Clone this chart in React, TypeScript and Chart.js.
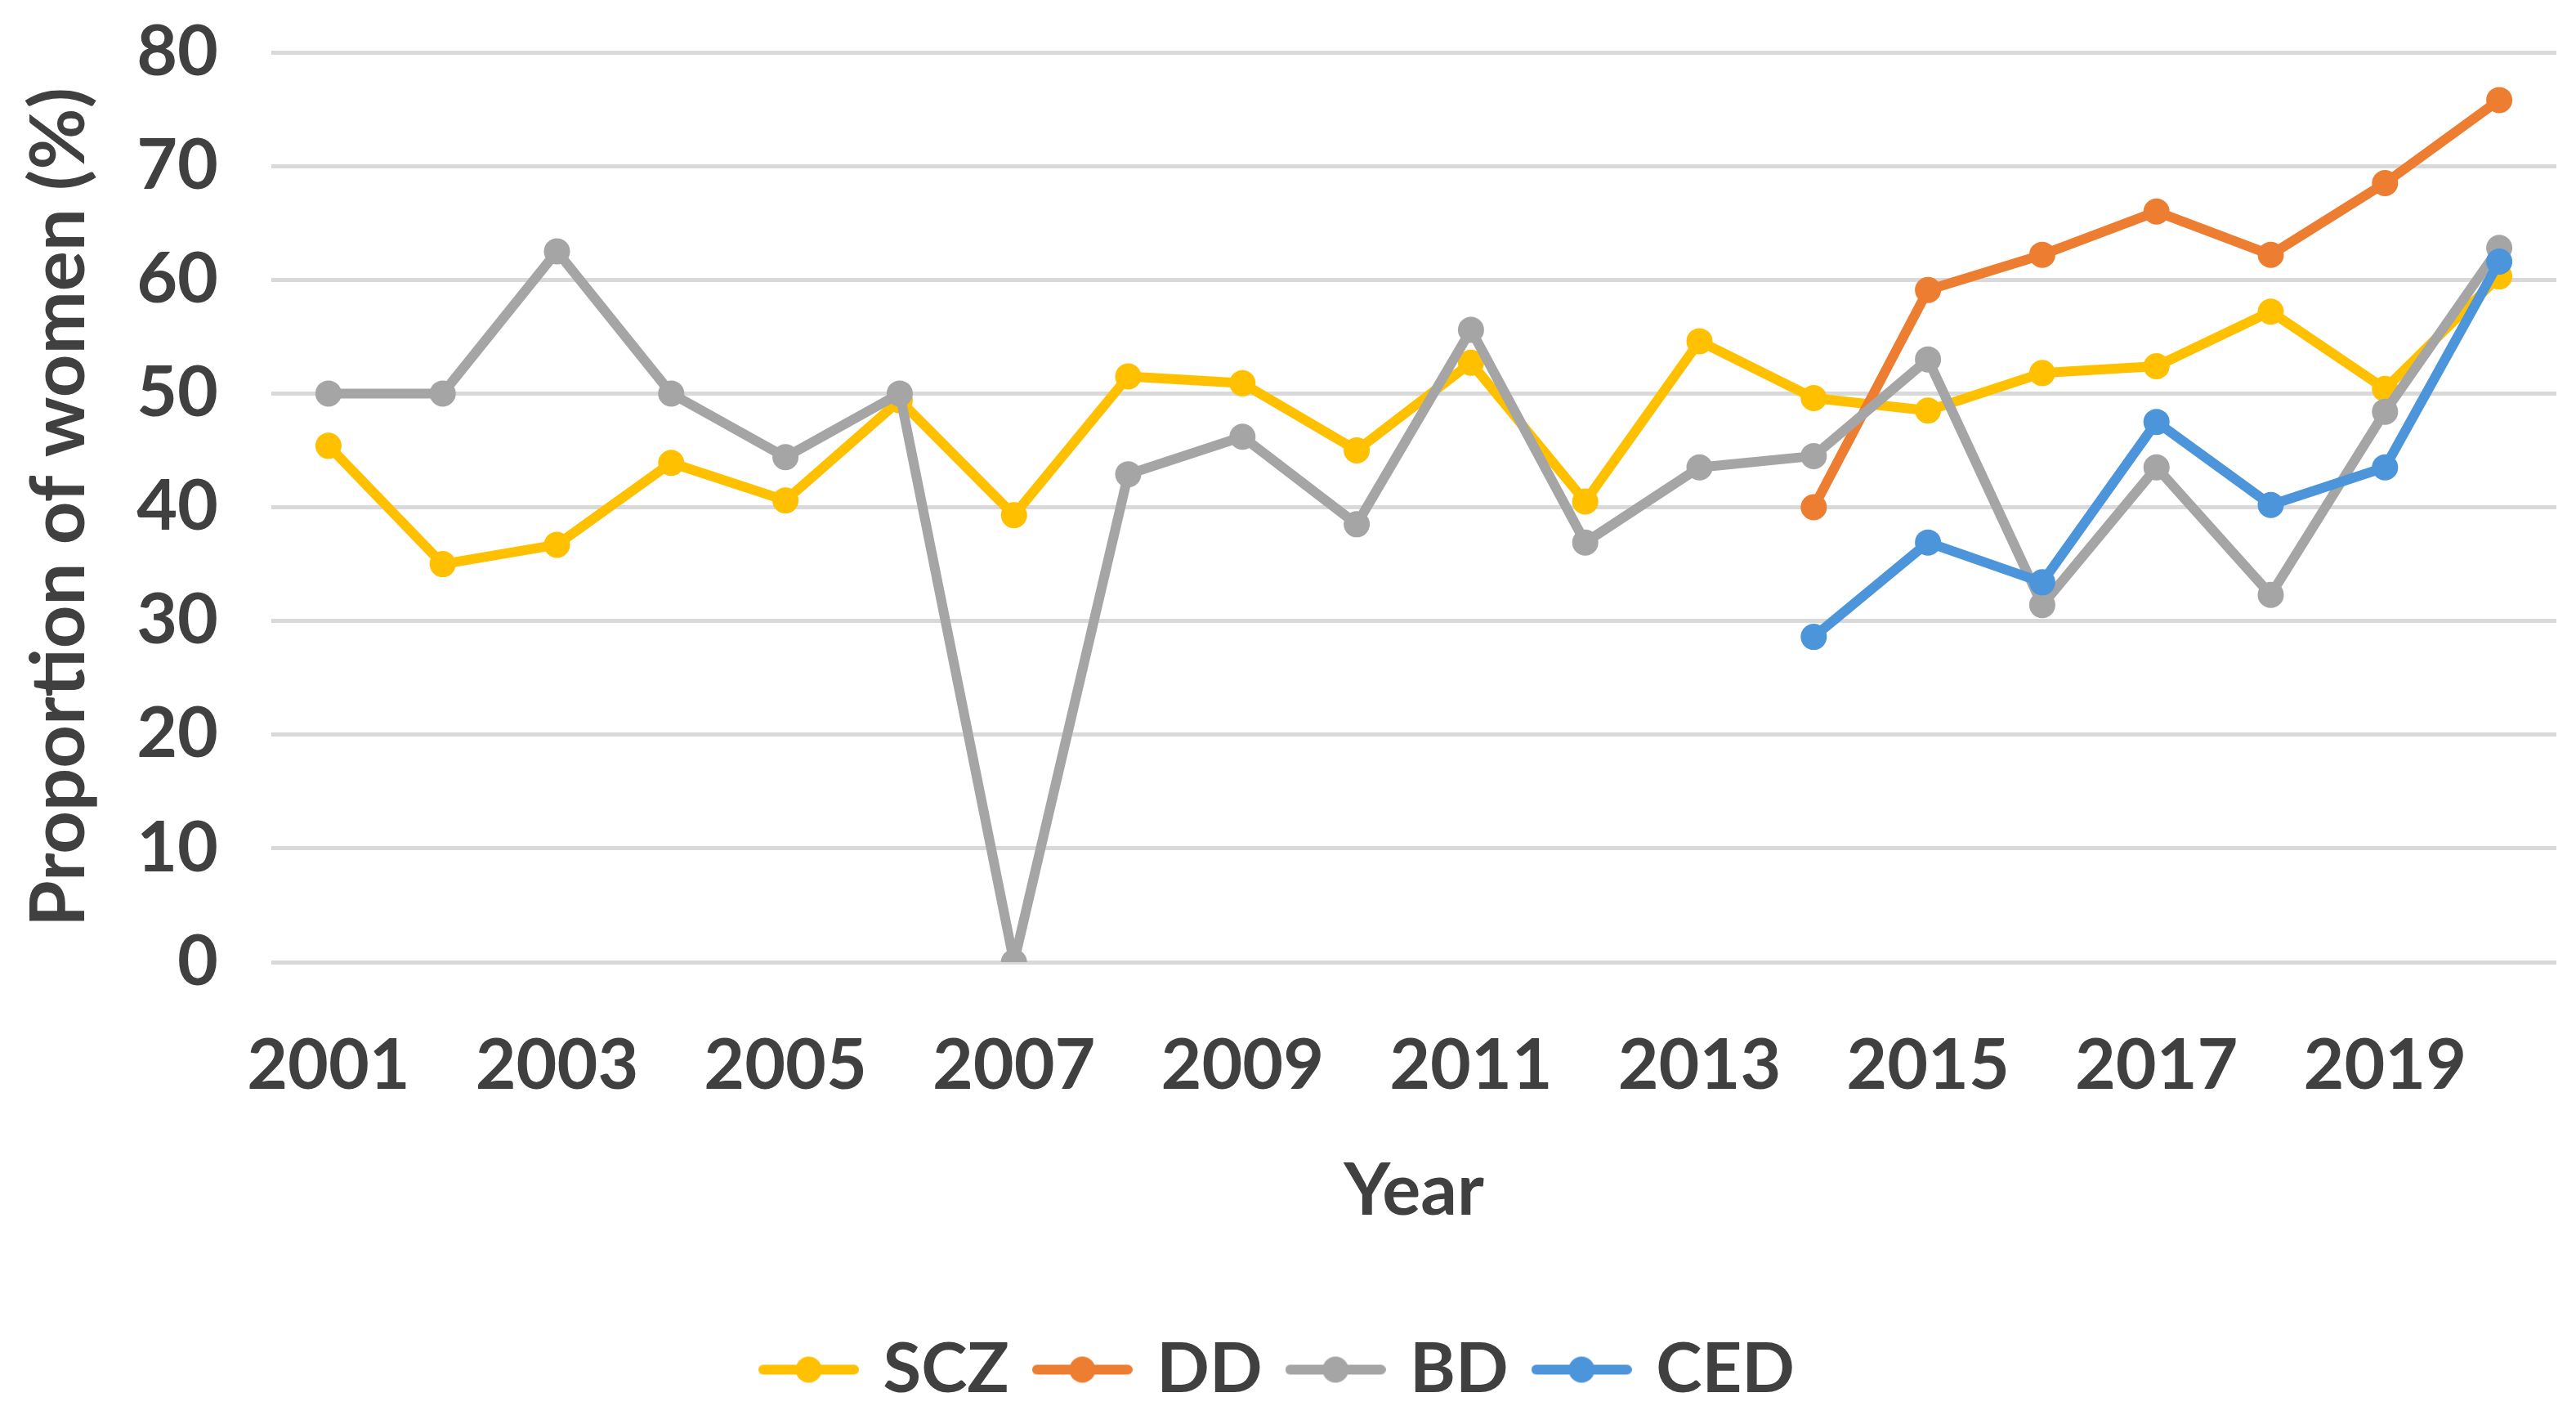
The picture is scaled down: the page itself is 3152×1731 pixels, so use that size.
import React, { useRef, useEffect } from "react";
import { Chart, ChartConfiguration, registerables } from "chart.js";
Chart.register(...registerables);

const years = [
  "2001", "2002", "2003", "2004", "2005", "2006", "2007", "2008", "2009", "2010",
  "2011", "2012", "2013", "2014", "2015", "2016", "2017", "2018", "2019", "2020",
];
const sczValues = [45.4, 35.0, 36.7, 43.9, 40.6, 49.4, 39.3, 51.5, 50.9, 45.0, 52.7, 40.5, 54.6, 49.6, 48.5, 51.8, 52.4, 57.2, 50.4, 60.3];
const ddValues = [null, null, null, null, null, null, null, null, null, null, null, null, null, 40.0, 59.1, 62.2, 66.0, 62.2, 68.5, 75.8];
const bdValues = [50.0, 50.0, 62.5, 50.0, 44.4, 50.0, 0, 42.9, 46.2, 38.5, 55.6, 36.9, 43.5, 44.5, 53.0, 31.4, 43.5, 32.3, 48.4, 62.8];
const cedValues = [null, null, null, null, null, null, null, null, null, null, null, null, null, 28.6, 36.9, 33.4, 47.5, 40.2, 43.5, 61.6];
const yTicks = [0, 10, 20, 30, 40, 50, 60, 70, 80];

const seriesNames = ["SCZ", "DD", "BD", "CED"];
const seriesColors = ["#FFC000", "#ED7D31", "#A5A5A5", "#4C95DA"];

const textColor = "#404040";
const fontFamily = "Lato";

// line + dot swatch, like the Excel legend
function makeMarker(color: string) {
  const c = document.createElement("canvas");
  c.width = 123;
  c.height = 36;
  const ctx = c.getContext("2d")!;
  ctx.strokeStyle = color;
  ctx.lineWidth = 12;
  ctx.lineCap = "round";
  ctx.beginPath();
  ctx.moveTo(6, 18);
  ctx.lineTo(117, 18);
  ctx.stroke();
  ctx.fillStyle = color;
  ctx.beginPath();
  ctx.arc(61.5, 18, 16, 0, Math.PI * 2);
  ctx.fill();
  return c;
}

const App: React.FC = () => {
  const chartRef = useRef<HTMLCanvasElement>(null);

  useEffect(() => {
    if (!chartRef.current) return;
    const markers = seriesColors.map(makeMarker);
    const allValues = [sczValues, ddValues, bdValues, cedValues];

    const config: ChartConfiguration = {
      type: "line",
      data: {
        labels: years,
        datasets: seriesNames.map((name, i) => ({
          label: name,
          data: allValues[i] as (number | null)[],
          borderColor: seriesColors[i],
          backgroundColor: seriesColors[i],
          pointBackgroundColor: seriesColors[i],
          pointBorderColor: seriesColors[i],
          pointBorderWidth: 0,
          pointRadius: 16,
          borderWidth: 12,
          borderJoinStyle: "round" as const,
          tension: 0,
          spanGaps: false,
          fill: false,
          order: 4 - i, // later series drawn on top
        })),
      },
      options: {
        responsive: true,
        maintainAspectRatio: false,
        animation: false,
        layout: { padding: { top: 56, right: 15, bottom: -5, left: 0 } },
        plugins: {
          tooltip: { enabled: false },
          legend: {
            position: "bottom",
            labels: {
              usePointStyle: true,
              pointStyleWidth: 97,
              padding: 41,
              color: textColor,
              font: { family: fontFamily, size: 85, weight: "bold" },
              sort: (a: any, b: any) => a.datasetIndex - b.datasetIndex,
              generateLabels: (chart: Chart) => {
                const items = Chart.defaults.plugins.legend.labels.generateLabels(chart);
                return items.map((item: any) => ({ ...item, pointStyle: markers[item.datasetIndex] }));
              },
            },
          },
        },
        scales: {
          x: {
            offset: true,
            grid: { display: false, drawTicks: false },
            border: { display: false },
            ticks: {
              autoSkip: false,
              maxRotation: 0,
              padding: 76,
              color: textColor,
              font: { family: fontFamily, size: 86, weight: "bold" },
              callback: (_v: any, idx: number) => (idx % 2 === 0 ? years[idx] : ""),
            },
            title: {
              display: true,
              text: "Year",
              color: textColor,
              font: { family: fontFamily, size: 88, weight: "bold" },
              padding: { top: 0, bottom: 82 },
            },
            afterFit: (scale: any) => {
              scale.height = 415;
            },
          },
          y: {
            min: yTicks[0],
            max: yTicks[yTicks.length - 1],
            grid: { color: "#D9D9D9", lineWidth: 5, drawTicks: false },
            border: { display: false },
            ticks: {
              stepSize: 10,
              padding: 65,
              color: textColor,
              font: { family: fontFamily, size: 86, weight: "bold" },
            },
            title: {
              display: true,
              text: "Proportion of women (%)",
              color: textColor,
              font: { family: fontFamily, size: 92, weight: "bold" },
              padding: { top: 10, bottom: 0 },
            },
            afterFit: (scale: any) => {
              scale.width = 324;
              // tick padding would otherwise push the plot down
              scale.paddingTop = 0;
              scale.paddingBottom = 0;
            },
          },
        },
      },
    };

    const chart = new Chart(chartRef.current, config);
    return () => {
      chart.destroy();
    };
  }, []);

  return (
    <div style={{ position: "relative", width: "3136px", height: "1715px", background: "#ffffff" }}>
      <canvas ref={chartRef}></canvas>
    </div>
  );
};

export default App;
